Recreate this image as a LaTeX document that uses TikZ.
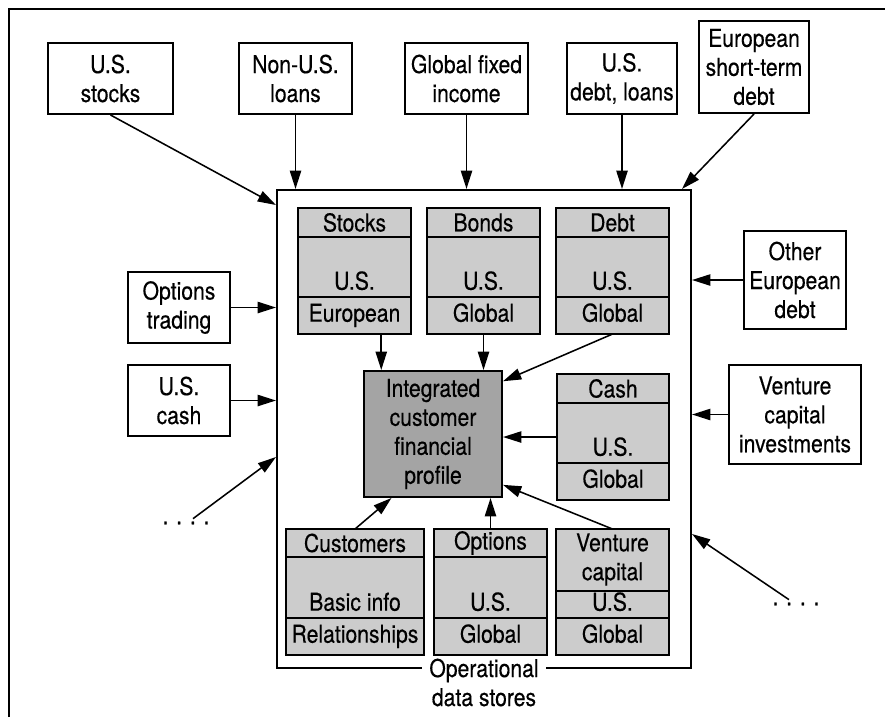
\documentclass[tikz,border=0pt]{standalone}
\usepackage{fontspec}
\setmainfont{TeX Gyre Heros}[FakeStretch=0.86,FakeBold=0.35]
\usetikzlibrary{positioning,arrows.meta}
\definecolor{storegray}{HTML}{CCCCCC}
\definecolor{profilegray}{HTML}{A4A4A4}

\tikzset{
  srcbox/.style={draw,line width=1.4pt,fill=white,align=center,inner sep=2pt},
  storebox/.style={draw,line width=1.4pt,fill=storegray,minimum height=3.15cm,inner sep=0pt,outer sep=0pt},
  storeline/.style={line width=1.4pt},
  storetext/.style={align=center,inner sep=0pt},
  feed/.style={line width=1.1pt,-{Triangle[length=13pt,width=8pt]}},
}

% name, left, top, width, header height, header, middle, bottom
\newcommand{\store}[8]{%
  \node[storebox,anchor=north west,minimum width=#4*0.025cm] (#1) at (#2,#3) {};
  \draw[storeline] (#2,#3+#5) -- (#2+#4,#3+#5);
  \draw[storeline] (#2,#3+89) -- (#2+#4,#3+89);
  \node[storetext] at (#2+#4/2,#3+#5/2) {#6};
  \node[storetext,anchor=mid] at (#2+#4/2,#3+78) {#7};
  \node[storetext,anchor=mid] at (#2+#4/2,#3+110) {#8};
}

\begin{document}
\begin{tikzpicture}[x=0.025cm,y=-0.025cm,font=\fontsize{17.5}{20.6}\selectfont]
  \useasboundingbox (0,0) rectangle (891,717);
  \draw[line width=0.9pt] (9,717) -- (9,9) -- (885,9);

  % sources
  \node[srcbox,minimum width=3.125cm,minimum height=1.775cm] (usstocks) at (110.5,78.5) {U.S.\\stocks};
  \node[srcbox,minimum width=2.825cm,minimum height=1.775cm] (nonus) at (295.5,78.5) {Non-U.S.\\loans};
  \node[srcbox,minimum width=3.075cm,minimum height=1.775cm] (globalfi) at (466.5,78.5) {Global fixed\\income};
  \node[srcbox,minimum width=2.75cm,minimum height=1.775cm] (usdebt) at (622,78.5) {U.S.\\debt, loans};
  \node[srcbox,minimum width=2.75cm,minimum height=2.3cm] (eurost) at (754,67) {European\\short-term\\debt};
  \node[srcbox,minimum width=2.55cm,minimum height=1.775cm] (opttrade) at (179,307.5) {Options\\trading};
  \node[srcbox,minimum width=2.55cm,minimum height=1.775cm] (uscash) at (179,400.5) {U.S.\\cash};
  \node[srcbox,minimum width=2.55cm,minimum height=2.45cm] (othereu) at (795,280) {Other\\European\\debt};
  \node[srcbox,minimum width=3.3cm,minimum height=2.475cm] (ventinv) at (795,414.5) {Venture\\capital\\investments};
  \node[inner sep=2pt] (ldots) at (186,523) {. . . .};
  \node[inner sep=2pt] (rdots) at (796,604) {. . . .};

  % operational data stores
  \node[draw,line width=1.4pt,minimum width=10.35cm,minimum height=11.95cm] (ods) at (484,429) {};
  \node[fill=white,align=center,inner xsep=5pt,inner ysep=0pt] (odslabel) at (484,682.5) {Operational\\data stores};

  \node[draw,line width=1.4pt,fill=profilegray,minimum width=3.45cm,minimum height=3.15cm,align=center] (profile) at (433,434) {Integrated\\customer\\financial\\profile};

  \store{stocks}{298}{208}{113}{29}{Stocks}{U.S.}{European}
  \store{bonds}{427}{208}{113}{29}{Bonds}{U.S.}{Global}
  \store{debt}{556}{208}{113}{29}{Debt}{U.S.}{Global}
  \store{cash}{557}{374}{112}{29}{Cash}{U.S.}{Global}
  \store{customers}{286}{529}{138}{28}{Customers}{Basic info}{Relationships}
  \store{options}{434}{529}{113}{28}{Options}{U.S.}{Global}
  \store{venture}{556}{529}{113}{62}{}{U.S.}{Global}
  \node[storetext,anchor=north] (venturehead) at (612.5,533) {Venture\\capital};

  % feeds into the stores
  \coordinate (usin) at (ods.west |- 0,205);
  \coordinate (euin) at (ods.north -| 682,0);
  \coordinate (ldin) at (ods.west |- 0,457);
  \coordinate (rdin) at (ods.east |- 0,534);
  \draw[feed] (usstocks.south) -- (usin);
  \foreach \src in {nonus,globalfi,usdebt}
    \draw[feed] (\src) -- (\src |- ods.north);
  \draw[feed] (eurost.south) -- (euin);
  \foreach \src in {opttrade,uscash}
    \draw[feed] (\src) -- (\src -| ods.west);
  \foreach \src in {othereu,ventinv}
    \draw[feed] (\src) -- (\src -| ods.east);
  \draw[feed] ([xshift=5pt]ldots.north) -- (ldin);
  \draw[feed] ([xshift=-5pt]rdots.north) -- (rdin);

  % into the profile
  \draw[feed] (stocks.-67) -- (stocks.-67 |- profile.north);
  \draw[feed] (bonds) -- (bonds |- profile.north);
  \draw[feed] (debt.south) -- (profile.37);
  \draw[feed] (cash) -- (cash -| profile.east);
  \draw[feed] (customers.north) -- (profile.-123);
  \draw[feed] (options) -- (options |- profile.south);
  \draw[feed] (venture.north) -- (profile.-36);
\end{tikzpicture}
\end{document}
